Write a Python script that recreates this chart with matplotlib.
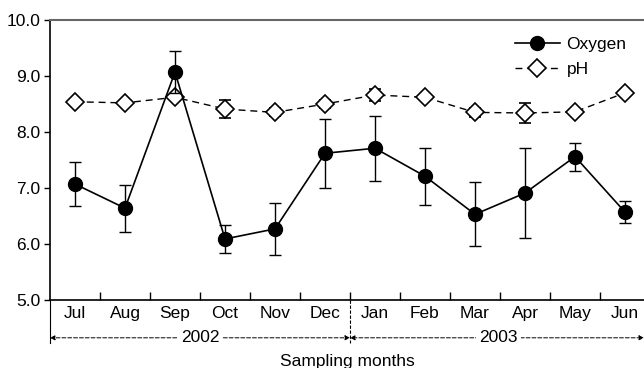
import matplotlib
matplotlib.use("Agg")
import matplotlib.pyplot as plt
from matplotlib.lines import Line2D
import numpy as np

months = ["Jul", "Aug", "Sep", "Oct", "Nov", "Dec", "Jan", "Feb", "Mar", "Apr", "May", "Jun"]
years = ["2002", "2003"]
oxygen = [7.07, 6.64, 9.07, 6.09, 6.27, 7.62, 7.71, 7.21, 6.53, 6.91, 7.56, 6.57]
oxygen_err = [0.40, 0.42, 0.38, 0.25, 0.47, 0.62, 0.58, 0.51, 0.57, 0.80, 0.25, 0.20]
ph = [8.54, 8.52, 8.62, 8.41, 8.35, 8.50, 8.66, 8.62, 8.35, 8.34, 8.36, 8.70]
ph_err = [0.0, 0.05, 0.0, 0.16, 0.07, 0.07, 0.10, 0.0, 0.08, 0.18, 0.05, 0.0]

plt.rcParams['font.family'] = ['Liberation Sans', 'DejaVu Sans']

fig = plt.figure(figsize=(6.44, 3.68), dpi=100)
ax = fig.add_axes([50/644, 68/368, 1 - 50/644, 280/368])

x = np.arange(len(months))
ph_style = dict(marker='D', color='black', markerfacecolor='white', markeredgecolor='black',
                markersize=9, markeredgewidth=1.2, linestyle=(0, (5, 3.5)), linewidth=1.0)
ox_style = dict(marker='o', color='black', markersize=10, linestyle='-', linewidth=1.2)

ax.errorbar(x, ph, yerr=ph_err, ecolor='black', elinewidth=1.0, capsize=4, capthick=1.0,
            zorder=3, **ph_style)
ax.errorbar(x, oxygen, yerr=oxygen_err, ecolor='black', elinewidth=1.0, capsize=4,
            capthick=1.0, zorder=4, **ox_style)

ax.set_xlim(-0.5, 11.38)
ax.set_ylim(5.0, 10.0)
ax.set_yticks([5.0, 6.0, 7.0, 8.0, 9.0, 10.0])
ax.set_yticklabels(["5.0", "6.0", "7.0", "8.0", "9.0", "10.0"], fontsize=12.5)
ax.tick_params(axis='y', direction='out', length=4, width=1.0, pad=3)

ax.set_xticks(np.arange(0.5, 11.5, 1.0))
ax.set_xticklabels([])
ax.tick_params(axis='x', which='major', direction='in', length=6, width=1.0)
ax.set_xticks(x, minor=True)
ax.set_xticklabels(months, minor=True, fontsize=12.5)
ax.tick_params(axis='x', which='minor', length=0, pad=4)

ax.spines['right'].set_visible(False)
ax.spines['top'].set_color('#666666')
ax.spines['top'].set_linewidth(1.5)
for s in ['left', 'bottom']:
    ax.spines[s].set_linewidth(1.2)

handles = [Line2D([], [], **ox_style), Line2D([], [], **ph_style)]
ax.legend(handles, ["Oxygen", "pH"], loc='upper left', bbox_to_anchor=(0.782, 0.94),
          frameon=False, fontsize=12.5, handlelength=2.6, handletextpad=0.4,
          labelspacing=0.55, borderaxespad=0.0, borderpad=0.0)

# bottom year brackets
trans = ax.get_xaxis_transform()
ybr_top = 0.0
ybr_bot = -0.155
yarrow = -0.135
ax.plot([-0.5, -0.5], [ybr_top, ybr_bot], transform=trans, color='black', lw=0.8, clip_on=False)
ax.plot([5.5, 5.5], [ybr_top, ybr_bot], transform=trans, color='black', lw=0.8,
        linestyle=(0, (3, 1.5)), clip_on=False)
for (x0, x1) in [(-0.5, 5.5), (5.5, 11.38)]:
    for xe in (x0, x1):
        ax.annotate('', xy=(xe, yarrow), xytext=((x0 + x1) / 2, yarrow), xycoords=trans,
                    textcoords=trans,
                    arrowprops=dict(arrowstyle='-|>', color='black', lw=0.7,
                                    linestyle=(0, (4, 2)), mutation_scale=7,
                                    shrinkA=0, shrinkB=0), annotation_clip=False)
xc = [2.5, 8.47]
for xi, lab in zip(xc, years):
    ax.text(xi, yarrow, lab, transform=trans, ha='center', va='center', fontsize=12.5,
            bbox=dict(facecolor='white', edgecolor='none', pad=2), clip_on=False)

ax.text(5.45, -0.218, "Sampling months", transform=trans, ha='center', va='center', fontsize=12.5)

fig.savefig("out.png", dpi=100)
